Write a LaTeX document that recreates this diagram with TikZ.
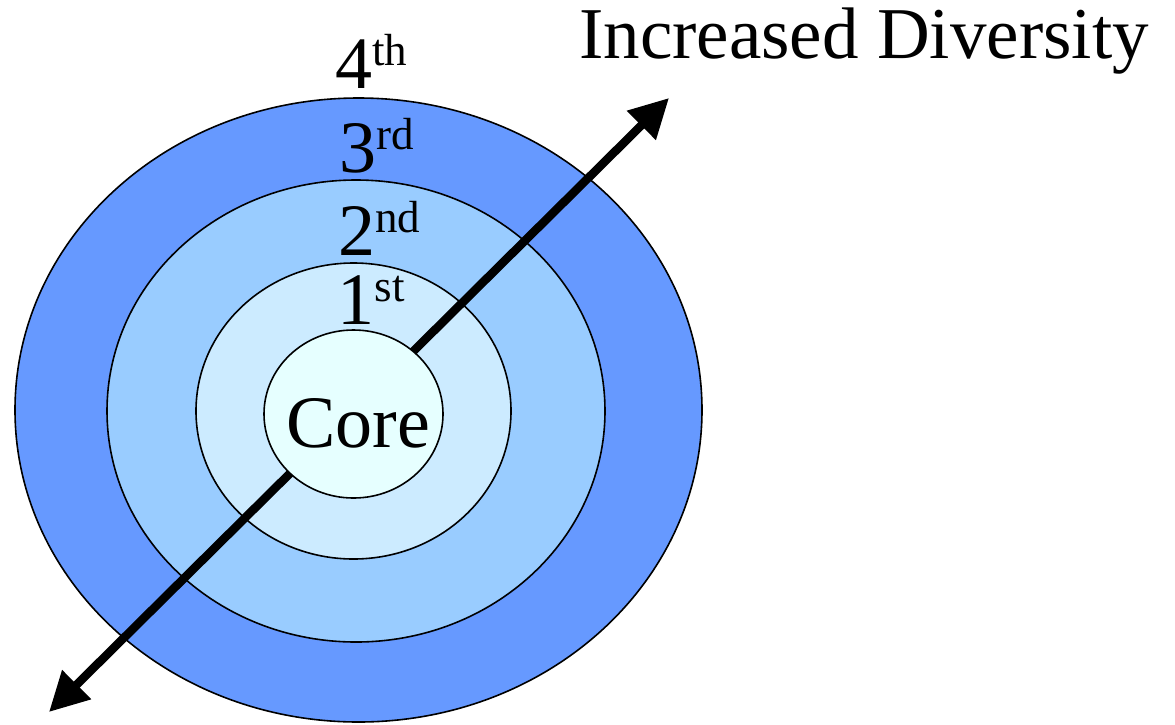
\documentclass[tikz,border=0pt]{standalone}
\usepackage{fontspec}
\setmainfont{Liberation Serif}
\usetikzlibrary{shapes.geometric, arrows.meta, positioning}
\definecolor{ringFour}{RGB}{102,153,255}
\definecolor{ringThree}{RGB}{153,204,255}
\definecolor{ringTwo}{RGB}{204,235,255}
\definecolor{coreFill}{RGB}{230,255,255}
\newcommand{\ordsup}[1]{\raisebox{23pt}{\fontsize{45}{45}\selectfont #1}}

\begin{document}
\begin{tikzpicture}[x=1pt, y=-1pt,
    ring/.style={ellipse, draw, line width=1.6pt, inner sep=0pt},
    tier/.style={font=\fontsize{74}{78}\selectfont, anchor=base, inner sep=0pt},
    diversity/.style={line width=8.5pt, {Triangle[length=39pt, width=39pt]}-{Triangle[length=39pt, width=39pt]}}
]
\useasboundingbox (0,0) rectangle (1175,724);
\node[ring, fill=ringFour, minimum width=687pt, minimum height=624pt] (fourth) at (358.5,410) {};
\node[ring, fill=ringThree, minimum width=498pt, minimum height=462pt] (third) at (356,411) {};
\node[ring, fill=ringTwo, minimum width=315pt, minimum height=296pt] (first) at (353.5,411) {};

\coordinate (lo) at (49,712);
\coordinate (hi) at (669,98);
\draw[diversity] (lo) -- (hi);

\node[ring, fill=coreFill, minimum width=179pt, minimum height=168pt] (core) at (353.5,414) {};

\node[tier] (coreText) at (358,447) {Core};
\node[tier] (tierOne) at (371,324) {1\ordsup{st}};
\node[tier] (tierTwo) at (379,255) {2\ordsup{nd}};
\node[tier] (tierThree) at (377,172) {3\ordsup{rd}};
\node[tier] (tierFour) at (371,88) {4\ordsup{th}};
\node[tier, font=\fontsize{73}{77}\selectfont] (increased) at (864,58) {Increased Diversity};
\end{tikzpicture}
\end{document}
